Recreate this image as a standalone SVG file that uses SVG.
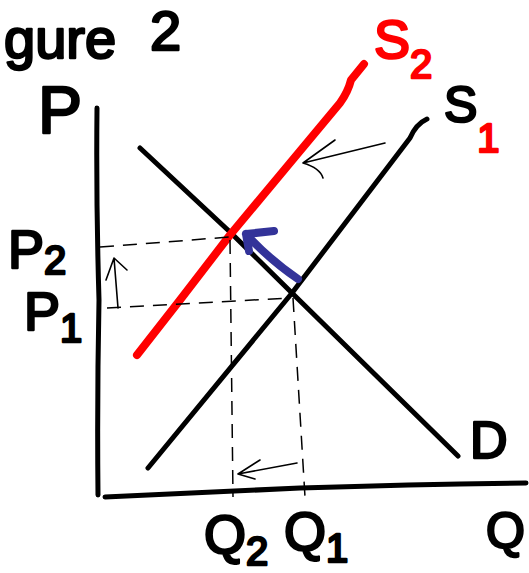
<svg xmlns="http://www.w3.org/2000/svg" width="529" height="573" viewBox="0 0 529 573">
<style>
.ink{fill:none;stroke:#000;stroke-width:5;stroke-linecap:round;stroke-linejoin:round}
.red{fill:none;stroke:#ff0000;stroke-width:8;stroke-linecap:round;stroke-linejoin:round}
.blue{fill:none;stroke:#333399;stroke-width:8;stroke-linecap:round;stroke-linejoin:round}
.dash{fill:none;stroke:#000;stroke-width:1.5;stroke-dasharray:14 9}
.thin{fill:none;stroke:#000;stroke-width:1.6;stroke-linecap:round;stroke-linejoin:round}
.lbl{font-family:"Liberation Sans",Arial,sans-serif;fill:#000;stroke:#000;stroke-width:2.5;stroke-linejoin:round}
.lr{fill:#ff0000;stroke:#ff0000}
</style>
<rect width="529" height="573" fill="#fff"/>
<g id="title"><text class="lbl" font-size="56"><tspan x="4" y="58">gure</tspan><tspan x="150" y="50">2</tspan></text></g>
<g id="axes">
<path class="ink" d="M97 108 Q96 200 99 300 Q97 400 98 495"/>
<path class="ink" d="M105 497 Q250 490 300 488 Q420 484 526 483"/>
</g>
<g id="curves">
<path id="demand" class="ink" d="M140 148 L230 232 L292 293 L458 456"/>
<path id="supply1" class="ink" d="M148 468 L292 293 L410 138 Q416 124 427 119"/>
<path id="supply2" class="red" d="M137 355 L180 300 L230 235 L290 163 L340 103 Q348 92 351 80 L364 64"/>
</g>
<g id="connectors">
<path class="dash" d="M100 247 L230 237"/>
<path class="dash" d="M107 308 L290 298"/>
<path class="dash" d="M230 240 L233 497"/>
<path class="dash" d="M293 298 L305 497"/>
<path class="blue" d="M298 279 Q270 260 246 234 M246 234 L274 231 M246 234 L249 251"/>
<path class="thin" d="M118 308 L114 258 M114 258 L106 280 M114 258 L127 270"/>
<path class="thin" d="M297 463 L238 474 M238 474 L260 460 M238 474 L255 479"/>
<path class="thin" d="M385 143 L303 163 M303 163 L335 140 M303 163 Q320 168 323 178"/>
</g>
<g id="labels">
<text class="lbl" font-size="66" x="38" y="133">P</text>
<text class="lbl" font-size="54" x="8" y="268">P<tspan font-size="40" dy="6">2</tspan></text>
<text class="lbl" font-size="54" x="24" y="330">P<tspan font-size="40" dy="12">1</tspan></text>
<text class="lbl" font-size="54" x="204" y="553">Q<tspan font-size="40" dy="12">2</tspan></text>
<text class="lbl" font-size="54" x="284" y="550">Q<tspan font-size="40" dy="12">1</tspan></text>
<text class="lbl" font-size="50" x="486" y="548">Q</text>
<text class="lbl" font-size="52" x="470" y="458">D</text>
<text class="lbl lr" font-size="54" x="374" y="58">S<tspan font-size="40" dy="20">2</tspan></text>
<text class="lbl" font-size="50" x="444" y="122">S<tspan class="lr" font-size="40" dy="30">1</tspan></text>
</g>
</svg>
